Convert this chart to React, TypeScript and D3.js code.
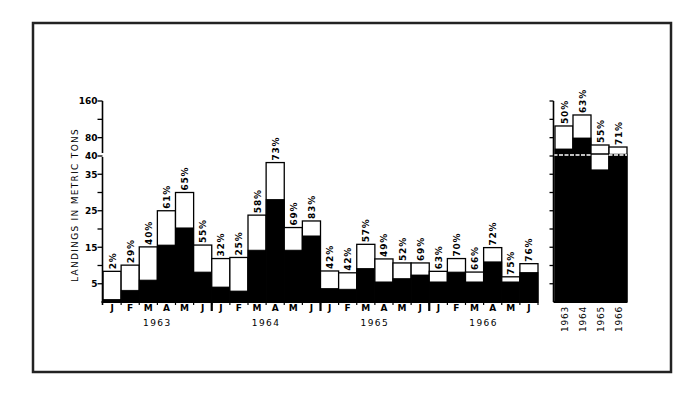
import React from "react";
import * as d3 from "d3";

const months = ["J", "F", "M", "A", "M", "J"];
const years = ["1963", "1964", "1965", "1966"];

// Monthly landings (Jan-Jun), total height and black (share) portion
const total1963 = [8.4, 10.1, 15.1, 25.0, 30.0, 15.6];
const total1964 = [11.9, 12.2, 23.8, 38.2, 20.4, 22.2];
const total1965 = [8.5, 8.0, 15.8, 11.8, 10.7, 10.7];
const total1966 = [8.4, 11.9, 8.2, 14.9, 6.9, 10.5];

const black1963 = [0.7, 3.2, 6.0, 15.6, 20.3, 8.2];
const black1964 = [4.1, 3.0, 14.2, 28.1, 14.2, 18.1];
const black1965 = [3.7, 3.5, 9.2, 5.5, 6.4, 7.4];
const black1966 = [5.5, 8.2, 5.5, 11.0, 5.5, 8.1];

const pct1963 = [2, 29, 40, 61, 65, 55];
const pct1964 = [32, 25, 58, 73, 69, 83];
const pct1965 = [42, 42, 57, 49, 52, 69];
const pct1966 = [63, 70, 66, 72, 75, 76];

// Annual (Jan-Jun) totals
const annualTotal = [105.5, 129.5, 64, 59.6];
const annualBlack = [55.3, 79.3, 36.2, 44];
const annualPct = [50, 63, 55, 71];

const labeledTicks = [5, 15, 25, 35, 40, 80, 160];
const minorTicks = [10, 20, 30, 120];
const rightTicks = [5, 10, 15, 20, 25, 30, 35, 40, 80, 120, 160];

const FONT = "'DejaVu Sans', sans-serif";

export default function App() {
  const totals = [total1963, total1964, total1965, total1966].flat();
  const blacks = [black1963, black1964, black1965, black1966].flat();
  const pcts = [pct1963, pct1964, pct1965, pct1966].flat();

  const yLow = d3.scaleLinear().domain([0, 40]).range([302, 156]);
  const yHigh = d3.scaleLinear().domain([40, 160]).range([156, 101]);
  const y = (v: number) => (v <= 40 ? yLow(v) : yHigh(v));

  const idx = d3.range(totals.length);
  const x = d3.scaleBand<number>().domain(idx).range([103, 538]).padding(0);
  const xYearGroup = d3.scaleBand<string>().domain(years).range([103, 538]).padding(0);
  const xa = d3.scaleBand<string>().domain(years).range([555, 627]).padding(0);

  const axisX = 102.5;
  const rAxisX = 553.5;
  const base = y(0);
  const breakY = 155;

  return (
    <svg
      width={700}
      height={397}
      style={{ position: "absolute", left: 0, top: 0, background: "#fff" }}
      fontFamily={FONT}
    >
      <rect x={0} y={0} width={700} height={397} fill="#fff" />
      <rect x={33} y={23} width={638} height={349} fill="none" stroke="#222" strokeWidth={2.5} />

      {/* Monthly bars */}
      {idx.map((i) => {
        const x0 = x(i)!;
        const w = x.bandwidth();
        return (
          <g key={"b" + i}>
            <rect x={x0} y={y(totals[i])} width={w} height={base - y(totals[i])} fill="#fff" stroke="#000" strokeWidth={1.3} />
            <rect x={x0} y={y(blacks[i])} width={w} height={base - y(blacks[i])} fill="#000" stroke="#000" strokeWidth={0.8} />
            <text
              transform={`translate(${x0 + w / 2 + 3.5},${y(totals[i]) - 2}) rotate(-90)`}
              fontSize={9}
              fontWeight="bold"
              letterSpacing={0.8}
              fill="#000"
            >
              {pcts[i] + "%"}
            </text>
          </g>
        );
      })}

      {/* Left axis */}
      <line x1={axisX} x2={axisX} y1={y(160)} y2={153} stroke="#000" strokeWidth={1.6} />
      <line x1={axisX} x2={axisX} y1={157} y2={base + 3} stroke="#000" strokeWidth={1.6} />
      {labeledTicks.map((t) => (
        <g key={"lt" + t}>
          <line x1={axisX - 5} x2={axisX} y1={y(t)} y2={y(t)} stroke="#000" strokeWidth={1.3} />
          <text x={axisX - 5} y={y(t) + 3.3} fontSize={9} fontWeight="bold" textAnchor="end" fill="#000">
            {t}
          </text>
        </g>
      ))}
      {minorTicks.map((t) => (
        <line key={"mt" + t} x1={axisX - 5} x2={axisX} y1={y(t)} y2={y(t)} stroke="#000" strokeWidth={1.3} />
      ))}
      <text
        transform={`translate(78,${205}) rotate(-90)`}
        fontSize={9}
        letterSpacing={1.3}
        textAnchor="middle"
        fill="#000"
      >
        LANDINGS IN METRIC TONS
      </text>

      {/* Baseline */}
      <line x1={axisX - 1} x2={538} y1={base} y2={base} stroke="#000" strokeWidth={2} />
      {idx.map((i) => (
        <line key={"bt" + i} x1={x(i)! + x.bandwidth()} x2={x(i)! + x.bandwidth()} y1={base} y2={base + 3} stroke="#000" strokeWidth={1.2} />
      ))}
      {years.slice(1).map((yr) => (
        <line key={"yd" + yr} x1={xYearGroup(yr)!} x2={xYearGroup(yr)!} y1={base - 1} y2={base + 9} stroke="#000" strokeWidth={2.2} />
      ))}
      {idx.map((i) => (
        <text key={"ml" + i} x={x(i)! + x.bandwidth() / 2} y={311} fontSize={9} fontWeight="bold" textAnchor="middle" fill="#000">
          {months[i % 6]}
        </text>
      ))}
      {years.map((yr) => (
        <text key={"yl" + yr} x={xYearGroup(yr)! + xYearGroup.bandwidth() / 2} y={326} fontSize={9} textAnchor="middle" letterSpacing={1.5} fill="#000">
          {yr}
        </text>
      ))}

      {/* Annual panel */}
      {years.map((yr, k) => {
        const x0 = xa(yr)!;
        const w = xa.bandwidth();
        return (
          <g key={"a" + yr}>
            <rect x={x0} y={y(annualTotal[k])} width={w} height={base - y(annualTotal[k])} fill="#fff" stroke="#000" strokeWidth={1.3} />
            <rect x={x0} y={y(annualBlack[k])} width={w} height={base - y(annualBlack[k])} fill="#000" stroke="#000" strokeWidth={0.8} />
            <text
              transform={`translate(${x0 + w / 2 + 3.5},${y(annualTotal[k]) - 2}) rotate(-90)`}
              fontSize={9}
              fontWeight="bold"
              letterSpacing={0.8}
              fill="#000"
            >
              {annualPct[k] + "%"}
            </text>
            <text
              transform={`translate(${x0 + w / 2 + 3.5},${base + 4}) rotate(-90)`}
              fontSize={9}
              letterSpacing={0.8}
              textAnchor="end"
              fill="#000"
            >
              {yr}
            </text>
          </g>
        );
      })}
      {/* break line across annual panel */}
      <line x1={rAxisX} x2={627} y1={breakY} y2={breakY} stroke="#fff" strokeWidth={1.4} strokeDasharray="4,1.5" />
      {years.map((yr, k) =>
        annualTotal[k] > 40 && annualBlack[k] < 40 ? (
          <line key={"br" + yr} x1={xa(yr)!} x2={xa(yr)! + xa.bandwidth()} y1={breakY - 1} y2={breakY - 1} stroke="#000" strokeWidth={1.5} />
        ) : null
      )}
      <line x1={rAxisX} x2={rAxisX} y1={y(160)} y2={base} stroke="#000" strokeWidth={1.6} />
      {rightTicks.map((t) => (
        <line key={"rt" + t} x1={rAxisX - 4} x2={rAxisX} y1={y(t)} y2={y(t)} stroke="#000" strokeWidth={1.3} />
      ))}
      <line x1={rAxisX} x2={627} y1={base} y2={base} stroke="#000" strokeWidth={2} />
    </svg>
  );
}
